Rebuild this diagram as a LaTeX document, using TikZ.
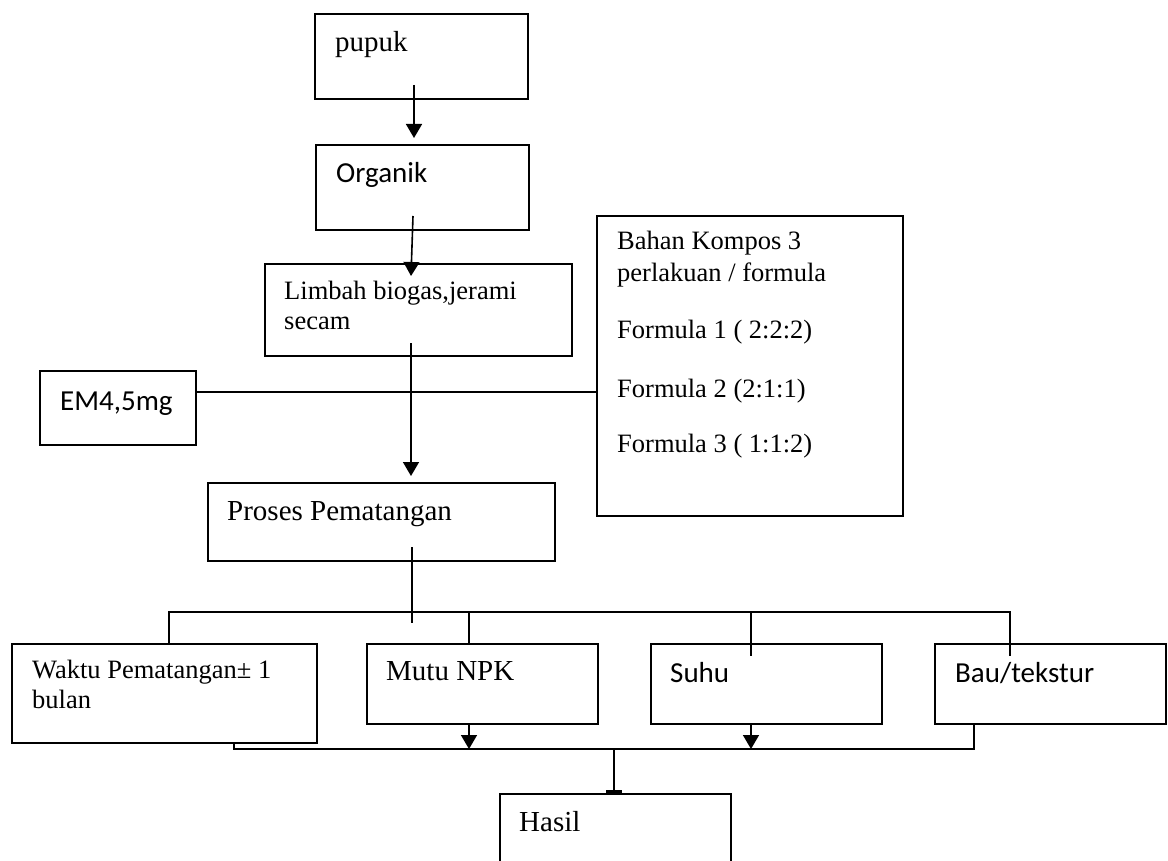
\documentclass[tikz,border=0pt]{standalone}
\usepackage{fontspec}
\setmainfont{Liberation Serif}
\newfontfamily\calibri{Carlito}
\usetikzlibrary{arrows.meta}
\begin{document}
\begin{tikzpicture}[x=1pt,y=-1pt,
  box/.style={draw,line width=1.8pt,inner sep=0pt,anchor=north west},
  conn/.style={line width=1.6pt},
  arr/.style={conn,-{Triangle[length=14pt,width=16pt]}},
  bararr/.style={conn,-{Rectangle[length=3pt,width=16pt]}},
  tmr/.style={anchor=base west,inner sep=0pt,font=\fontsize{26.5}{32}\selectfont},
  tmrb/.style={anchor=base west,inner sep=0pt,font=\fontsize{29}{35}\selectfont},
  cal/.style={anchor=base west,inner sep=0pt,font=\calibri\fontsize{29}{35}\selectfont},
]
\useasboundingbox (0,0) rectangle (1168,861);
\clip (0,0) rectangle (1168,861);
\fill[white] (0,0) rectangle (1168,861);

% boxes
\node[box,minimum width=213pt,minimum height=85pt] (pupuk) at (314,13) {};
\node[box,minimum width=213pt,minimum height=85pt] (organik) at (315,144) {};
\node[box,minimum width=307pt,minimum height=92pt] (limbah) at (264,263) {};
\node[box,minimum width=156pt,minimum height=74pt] (em) at (39,370) {};
\node[box,minimum width=306pt,minimum height=300pt] (bahan) at (596,215) {};
\node[box,minimum width=347pt,minimum height=78pt] (proses) at (207,482) {};
\node[box,minimum width=305pt,minimum height=99pt] (waktu) at (11,643) {};
\node[box,minimum width=231pt,minimum height=80pt] (mutu) at (366,643) {};
\node[box,minimum width=231pt,minimum height=80pt] (suhu) at (650,643) {};
\node[box,minimum width=231pt,minimum height=80pt] (bau) at (934,643) {};
\node[box,minimum width=231pt,minimum height=120pt] (hasil) at (499,793) {};

% texts
\node[tmrb] (tpupuk) at (335,52) {pupuk};
\node[cal] (torganik) at (336,183) {Organik};
\node[tmr] (tlimbah1) at (284,300) {Limbah biogas,jerami};
\node[tmr] (tlimbah2) at (284,330) {secam};
\node[cal] (tem) at (60,410) {EM4,5mg};
\node[tmr] (tbahan1) at (617,250) {Bahan Kompos 3};
\node[tmr] (tbahan2) at (617,282) {perlakuan / formula};
\node[tmr] (tbahan3) at (617,338) {Formula 1 ( 2:2:2)};
\node[tmr] (tbahan4) at (617,397) {Formula 2 (2:1:1)};
\node[tmr] (tbahan5) at (617,452) {Formula 3 ( 1:1:2)};
\node[tmrb] (tproses) at (227,520) {Proses Pematangan};
\node[tmr] (twaktu1) at (32,678) {Waktu Pematangan± 1};
\node[tmr] (twaktu2) at (32,708) {bulan};
\node[tmrb] (tmutu) at (386,680) {Mutu NPK};
\node[cal] (tsuhu) at (670,682) {Suhu};
\node[cal] (tbau) at (955,682) {Bau/tekstur};
\node[tmrb] (thasil) at (519,831) {Hasil};

% connector points
\coordinate (p1) at (414,85);
\coordinate (p1e) at (414,138);
\coordinate (p2) at (413,216);
\coordinate (p2e) at (411,276);
\coordinate (p3) at (411,343);
\coordinate (p3e) at (411,476);
\coordinate (p4) at (412,547);
\coordinate (p4e) at (412,623);
\coordinate (bl) at (169,612);
\coordinate (br) at (1010,612);
\coordinate (dm) at (469,612);
\coordinate (ds) at (751,612);
\coordinate (cl) at (234,749);
\coordinate (cr) at (974,749);
\coordinate (h1) at (614,748);
\coordinate (h1e) at (614,793);

\draw[arr] (p1) -- (p1e);
\draw[arr] (p2) -- (p2e);
\draw[arr] (p3) -- (p3e);
\draw[conn] (em.east |- 0,392) -- (bahan.west |- 0,392);
\draw[conn] (p4) -- (p4e);
\draw[conn] (bl |- waktu.north) -- (bl) -- (br) -- (1010,656);
\draw[conn] (dm) -- (dm |- mutu.north);
\draw[conn] (ds) -- (751,656);
\draw[conn] (cl |- waktu.south) -- (cl) -- (cr) -- (cr |- bau.south);
\draw[arr] (469,723) -- (469,749);
\draw[arr] (751,723) -- (751,749);
\draw[bararr] (h1) -- (h1e);
\end{tikzpicture}
\end{document}
